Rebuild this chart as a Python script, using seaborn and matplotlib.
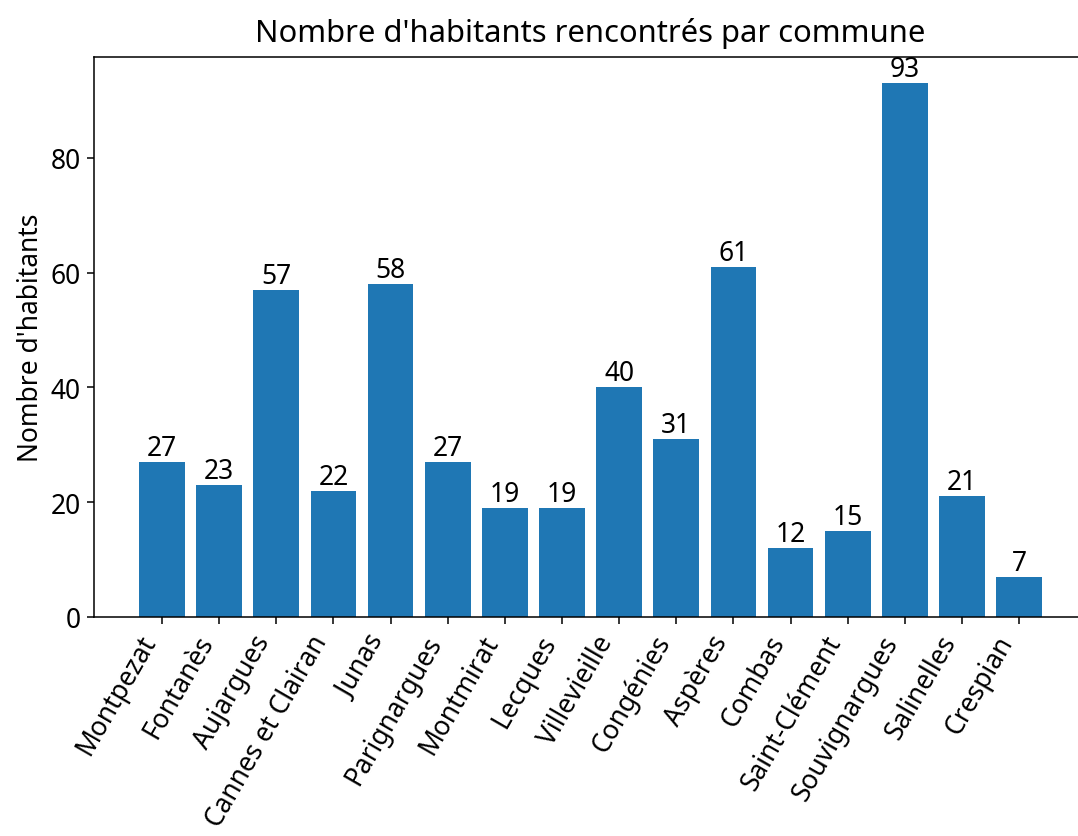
import pandas as pd
import matplotlib
matplotlib.use('Agg')
import matplotlib.pyplot as plt
import seaborn as sns

communes = ['Montpezat', 'Fontanès', 'Aujargues', 'Cannes et Clairan', 'Junas',
            'Parignargues', 'Montmirat', 'Lecques', 'Villevieille', 'Congénies',
            'Aspères', 'Combas', 'Saint-Clément', 'Souvignargues', 'Salinelles',
            'Crespian']
habitants = [27, 23, 57, 22, 58, 27, 19, 19, 40, 31, 61, 12, 15, 93, 21, 7]

plt.rcParams['font.family'] = ['Noto Sans', 'DejaVu Sans']
plt.rcParams['font.size'] = 19
plt.rcParams['axes.linewidth'] = 1.1

data = pd.DataFrame({'commune': communes, 'habitants': habitants})

fig = plt.figure(figsize=(10.78, 8.37), dpi=100)
# the original picture is cropped on the right, so the axes run past the edge
ax = fig.add_axes([0.0872, 0.262, 0.9212, 0.669])

sns.barplot(data=data, x='commune', y='habitants', color='#1f77b4',
            saturation=1, width=0.8, ax=ax)
for c in ax.containers:
    ax.bar_label(c, fontsize=19, padding=0)

ax.set_xlim(-1.19, 16.19)
ax.set_ylim(0, 97.65)
ax.set_xlabel('')
ax.set_ylabel("Nombre d'habitants", fontsize=19)
ax.set_title("Nombre d'habitants rencontrés par commune", fontsize=22.3, pad=11.5)
plt.xticks(rotation=60, ha='right')
ax.tick_params(labelsize=19, length=4.8, width=1.1, pad=4.8)

plt.savefig('out.png', dpi=100)
